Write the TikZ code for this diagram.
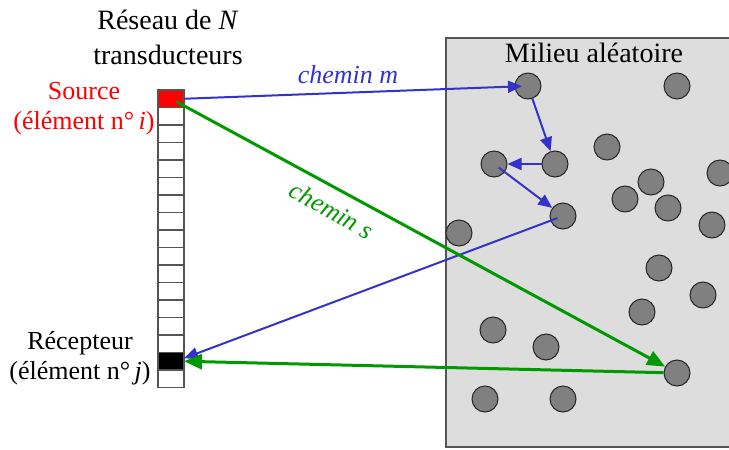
\documentclass[tikz,border=0pt]{standalone}
\usepackage{fontspec}
\setmainfont{Liberation Serif}
\usetikzlibrary{arrows.meta}
\definecolor{srcred}{HTML}{FF0000}
\definecolor{pathm}{HTML}{3333CC}
\definecolor{paths}{HTML}{009900}
\definecolor{medium}{HTML}{DDDDDD}
\definecolor{scatt}{HTML}{808080}
\definecolor{frameline}{HTML}{555555}

\begin{document}
\begin{tikzpicture}[x=0.5pt,y=-0.5pt,
  cell/.style={draw=frameline,fill=white,minimum width=13pt,minimum height=8.75pt,
    inner sep=0pt,outer sep=0pt,line width=0.6pt},
  scatterer/.style={circle,draw=black!85,fill=scatt,minimum size=13pt,inner sep=0pt,
    line width=0.5pt},
  arrm/.style={pathm,line width=1pt,-{Triangle[length=7pt,width=6pt]}},
  arrs/.style={paths,line width=1.5pt,-{Triangle[length=9pt,width=7.5pt]}},
  lbl/.style={font=\fontsize{13}{15}\selectfont,align=center}]
  \useasboundingbox (0,0) rectangle (729,450);
  % milieu
  \fill[medium] (446,38) rectangle (729,447);
  \draw[frameline,line width=0.6pt] (729,38) -- (446,38) -- (446,447) -- (729,447);
  % reseau
  \foreach \k in {1,...,14,16}
    \node[cell] (c\k) at (171,{98.75+17.5*\k}) {};
  \node[cell,fill=srcred] (c0) at (171,98.75) {};
  \node[cell,fill=black] (c15) at (171,{98.75+17.5*15}) {};
  % diffuseurs
  \foreach \x/\y [count=\i] in {528/86,677/86,607/147,494/164,555/164,720/173,
      651/182,625/199,668/208,563/216,712/225,459/233,659/268,703/295,642/312,
      493/330,546/347,677/373,485/399,563/399}
    \node[scatterer] (d\i) at (\x,\y) {};
  % chemins
  \draw[arrm,shorten >=3pt] (c0.east) -- (d1.center);
  \draw[arrm] (d1) -- (d5);
  \draw[arrm] (d5) -- (d4);
  \draw[arrm,shorten <=3pt] (d4.center) -- (d10);
  \draw[arrm,shorten <=3pt] (d10.center) -- ([yshift=1.5pt]c15.east);
  \draw[arrs,shorten <=3pt] (c0.center) -- (d18);
  \draw[arrs] (d18) -- (c15.east);
  % textes
  \node[lbl,font=\fontsize{14}{17.5}\selectfont] (title) at (168,37)
    {Réseau de \textit{N}\\transducteurs};
  \node[lbl,srcred] (srclbl) at (84,109) {Source\\(élément n°\,\textit{i})};
  \node[lbl] (rcvlbl) at (80,358) {Récepteur\\(élément n°\,\textit{j})};
  \node[font=\fontsize{14}{17}\selectfont] (medlbl) at (594,53) {Milieu aléatoire};
  \node[lbl,pathm,font=\fontsize{13}{15}\selectfont\itshape] (mlbl) at (348,75) {chemin m};
  \node[lbl,paths,font=\fontsize{13}{15}\selectfont\itshape,rotate=-29] (slbl) at (332,210)
    {chemin s};
\end{tikzpicture}
\end{document}
